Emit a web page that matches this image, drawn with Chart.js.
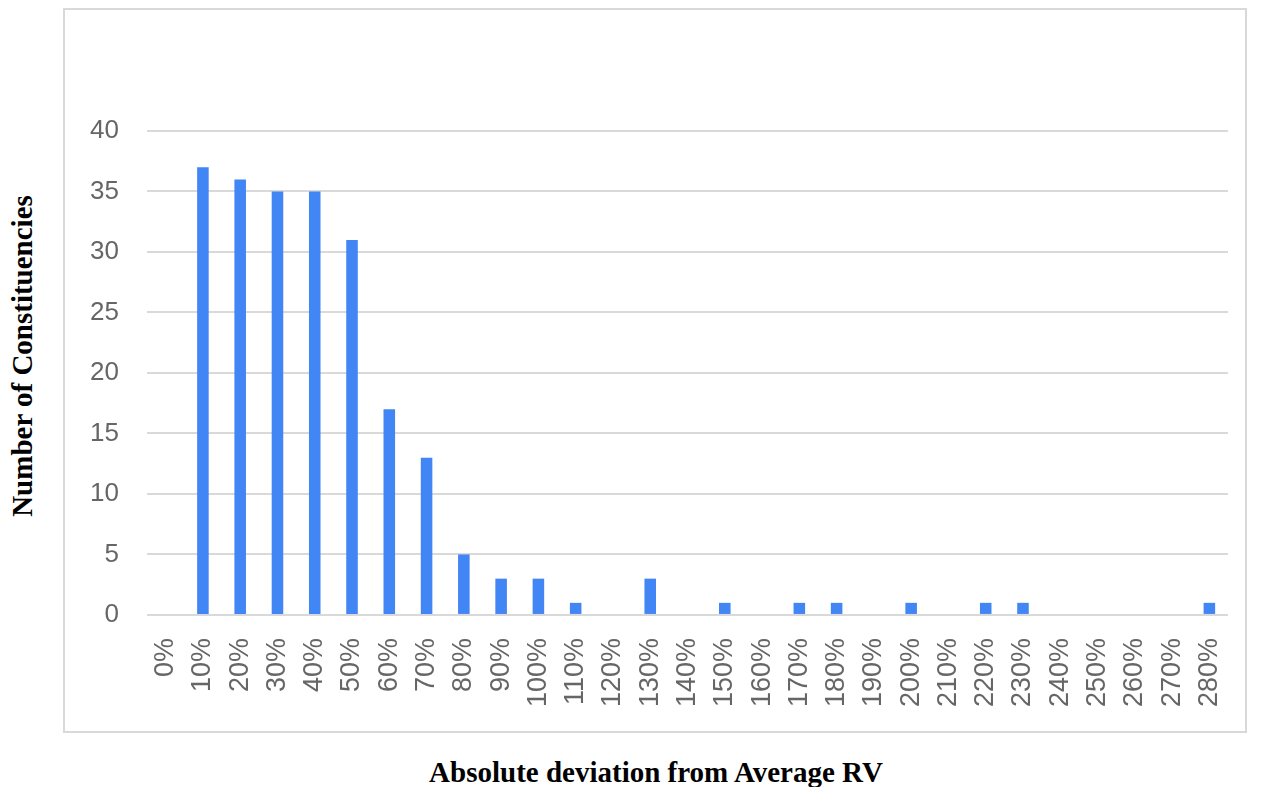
<!DOCTYPE html>
<html>
<head>
<meta charset="utf-8">
<script src="https://cdn.jsdelivr.net/npm/chart.js@4/dist/chart.umd.min.js"></script>
<style>
  body { margin: 0; background: #fff; width: 1261px; height: 787px; position: relative; overflow: hidden; }
  #box { position: absolute; left: 63px; top: 8px; width: 1180px; height: 721px; border: 2px solid #d9d9d9; }
  #box canvas { display: block; }
  .ttl { position: absolute; font-family: "Liberation Serif", "Times New Roman", serif; font-weight: bold; font-size: 29px; color: #000; white-space: nowrap; }
  #ytitle { left: 22px; top: 356px; transform: translate(-50%, -50%) rotate(-90deg); }
  #xtitle { left: 656px; top: 772px; transform: translate(-50%, -50%); }
</style>
</head>
<body>
<div id="box"><canvas id="devChart" width="1180" height="721"></canvas></div>
<div class="ttl" id="ytitle">Number of Constituencies</div>
<div class="ttl" id="xtitle">Absolute deviation from Average RV</div>
<script>
// deviation buckets and how many constituencies fall in each
var buckets = ["0%", "10%", "20%", "30%", "40%", "50%", "60%", "70%", "80%", "90%",
    "100%", "110%", "120%", "130%", "140%", "150%", "160%", "170%", "180%", "190%",
    "200%", "210%", "220%", "230%", "240%", "250%", "260%", "270%", "280%"];
var counts = [0, 37, 36, 35, 35, 31, 17, 13, 5, 3,
    3, 1, 0, 3, 0, 1, 0, 1, 1, 0,
    1, 0, 1, 1, 0, 0, 0, 0, 1];
var yTicks = [0, 5, 10, 15, 20, 25, 30, 35, 40];

var ctx = document.getElementById('devChart');

var devChart = new Chart(ctx, {
    type: 'bar',
    data: {
        labels: buckets,
        datasets: [{
            label: 'Constituencies',
            data: counts,
            backgroundColor: '#4285f4',
            borderWidth: 0,
            barPercentage: 0.31,
            categoryPercentage: 1
        }]
    },
    options: {
        responsive: false,
        animation: false,
        layout: { padding: { top: 121, right: 17, bottom: 9, left: 0 } },
        plugins: { legend: { display: false }, tooltip: { enabled: false } },
        scales: {
            x: {
                afterFit: function (axis) { axis.paddingRight = 0; axis.paddingLeft = 0; },
                grid: { display: false },
                border: { display: false },
                ticks: {
                    minRotation: 90, maxRotation: 90, autoSkip: false, padding: 15,
                    color: '#666', font: { family: 'Liberation Sans', size: 27 }
                }
            },
            y: {
                min: 0, max: 40,
                afterFit: function (axis) { axis.width = 82; },
                afterBuildTicks: function (axis) {
                    axis.ticks = yTicks.map(function (v) { return { value: v }; });
                },
                grid: { color: '#d9d9d9', lineWidth: 2, drawTicks: false },
                border: { display: false },
                ticks: {
                    padding: 28, color: '#666',
                    font: { family: 'Liberation Sans', size: 26 }
                }
            }
        }
    }
});
</script>
</body>
</html>
